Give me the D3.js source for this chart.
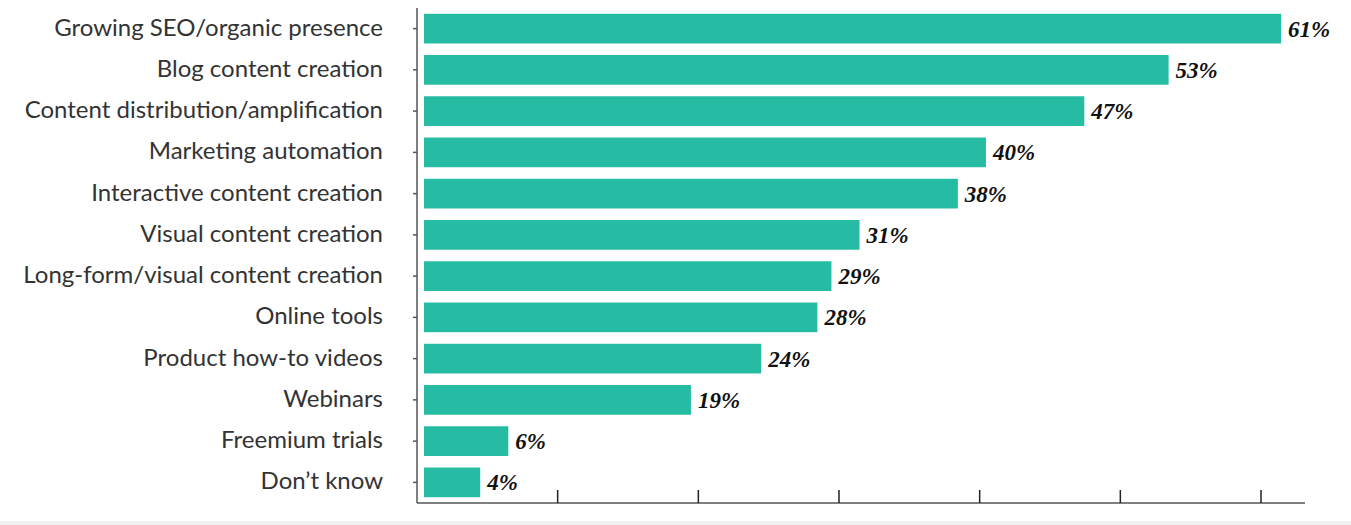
<!DOCTYPE html>
<html><head><meta charset="utf-8">
<script src="https://cdn.jsdelivr.net/npm/d3@7"></script>
<style>body{margin:0;background:#fff}</style></head>
<body><svg id="c" width="1351" height="525"></svg>
<script>
const categories=["Growing SEO/organic presence","Blog content creation","Content distribution/amplification","Marketing automation","Interactive content creation","Visual content creation","Long-form/visual content creation","Online tools","Product how-to videos","Webinars","Freemium trials","Don\u2019t know"];
const values=[61,53,47,40,38,31,29,28,24,19,6,4];
const tickValues=[10,20,30,40,50,60];

const svg=d3.select("#c");
svg.append("rect").attr("x",0).attr("y",521).attr("width",1351).attr("height",4).attr("fill","#f0f0f0");
const x=d3.scaleLinear().domain([0,61]).range([424,1281]);
const xt=d3.scaleLinear().domain([0,60]).range([417,1261]);
const y=d3.scaleBand().domain(categories).range([8,503]).paddingInner(0.28).paddingOuter(0.14);

svg.selectAll(".bar").data(values).join("rect")
 .attr("x",x(0)).attr("y",(d,i)=>y(categories[i]))
 .attr("width",d=>x(d)-x(0)).attr("height",y.bandwidth()).attr("fill","#26bba3");
svg.selectAll(".val").data(values).join("text")
 .attr("x",d=>x(d)+7).attr("y",(d,i)=>y(categories[i])+y.bandwidth()/2+8)
 .attr("font-family","Liberation Serif, DejaVu Serif, serif").attr("font-style","italic").attr("font-weight","bold")
 .attr("font-size",23).attr("fill","#111").text(d=>d+"%");
svg.selectAll(".cat").data(categories).join("text")
 .attr("x",383).attr("y",d=>y(d)+y.bandwidth()/2+7).attr("text-anchor","end")
 .attr("font-family","Lato, 'Open Sans', sans-serif").attr("font-size",24).attr("fill","#333").text(d=>d);

const g=svg.append("g").attr("stroke","#555").attr("stroke-width",1.5);
g.append("line").attr("x1",417).attr("x2",417).attr("y1",8).attr("y2",503);
g.append("line").attr("x1",417).attr("x2",1305).attr("y1",503).attr("y2",503);
g.selectAll(".yt").data(categories).join("line").attr("x1",413).attr("x2",417)
 .attr("y1",d=>y(d)+y.bandwidth()/2).attr("y2",d=>y(d)+y.bandwidth()/2);
svg.append("g").selectAll("line").data(tickValues).join("line").attr("stroke","#222").attr("stroke-width",1.5)
 .attr("x1",d=>xt(d)).attr("x2",d=>xt(d)).attr("y1",490).attr("y2",503);
</script></body></html>
